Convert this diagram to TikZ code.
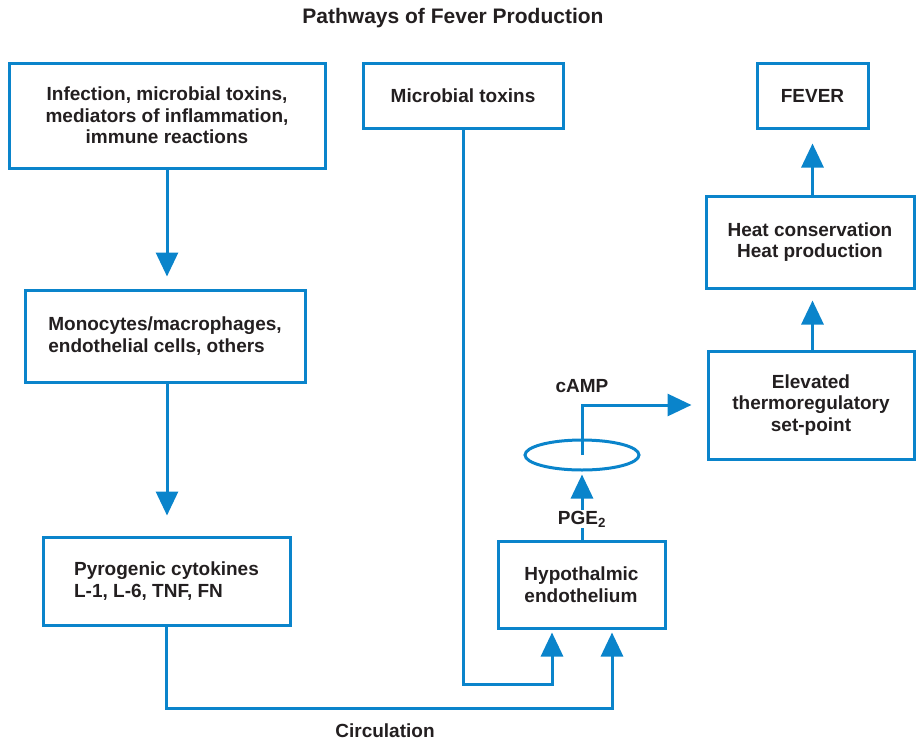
\documentclass[tikz,border=0pt]{standalone}
\usepackage{fontspec}
\setmainfont{Liberation Sans}
\usetikzlibrary{arrows.meta,shapes.geometric}

\definecolor{pathblue}{HTML}{0A84CB}
\definecolor{pathtext}{HTML}{231F20}

\tikzset{%
  every box/.style={
    draw=pathblue,
    line width=3pt,
    align=center,
    text=pathtext,
    font=\bfseries\fontsize{19}{21.5}\selectfont
  },
  box left/.style={
    align=left
  },
  flow/.style={
    draw=pathblue,
    line width=3pt
  },
  flow arrow/.style={
    flow,
    -{Triangle[width=22pt,length=24pt]}
  },
  every tag/.style={
    text=pathtext,
    font=\bfseries\fontsize{19}{21.5}\selectfont
  },
}

\begin{document}
\begin{tikzpicture}[x=1pt, y=-1pt]
\useasboundingbox (0,0) rectangle (916,742);

\node [every tag, font=\bfseries\fontsize{21}{24}\selectfont] (title) at (453,18) {Pathways of Fever Production};

% boxes
\node [every box, minimum width=316pt, minimum height=105pt] (infect) at (167,115.5)
  {Infection, microbial toxins,\\mediators of inflammation,\\immune reactions};
\node [every box, minimum width=200pt, minimum height=65pt] (toxins) at (463,95.5)
  {Microbial toxins};
\node [every box, minimum width=111pt, minimum height=65pt] (fever) at (812.5,95.5)
  {FEVER};
\node [every box, minimum width=208pt, minimum height=92pt] (heat) at (810,242)
  {Heat conservation\\Heat production};
\node [every box, minimum width=206pt, minimum height=108pt] (elev) at (811,405)
  {Elevated\\thermoregulatory\\set-point};
\node [every box, box left, minimum width=280pt, minimum height=92pt] (mono) at (165,336)
  {Monocytes/macrophages,\\endothelial cells, others};
\node [every box, box left, minimum width=247pt, minimum height=88pt] (pyro) at (166.5,581)
  {Pyrogenic cytokines\\L-1, L-6, TNF, FN};
\node [every box, box left, minimum width=167pt, minimum height=87pt] (hypo) at (581.5,584.5)
  {Hypothalmic\\endothelium};

\node [ellipse, draw=pathblue, line width=3pt, minimum width=114pt, minimum height=30pt] (cycle) at (582,455) {};

\coordinate (circ) at (612,708);
\coordinate (tox) at (552,684);

% left column
\draw [flow arrow, shorten >=12pt] (infect.south) -- (infect.south |- mono.north);
\draw [flow arrow, shorten >=20pt] (infect.south |- mono.south) -- (infect.south |- pyro.north);

% circulation and toxins
\draw [flow arrow, shorten >=3pt] (pyro.south) |- (circ) -- (circ |- hypo.south);
\draw [flow arrow, shorten >=3pt] (toxins.south) |- (tox) -- (tox |- hypo.south);
\node [every tag, inner sep=1pt] (circulation) at (385,731) {Circulation};

% PGE2 and cAMP
\draw [flow arrow, shorten >=3pt] (hypo.north -| cycle.south) -- (cycle.south)
  node [every tag, fill=white, inner sep=1pt, pos=0.3] (pge) {PGE$_\mathbf{2}$};
\draw [flow arrow, shorten >=15pt] (cycle.center) |- (elev.west);
\node [every tag] (camp) at (582,386) {cAMP};

% right column
\draw [flow arrow, shorten >=11pt] (elev.north -| fever.south) -- (heat.south -| fever.south);
\draw [flow arrow, shorten >=14pt] (heat.north -| fever.south) -- (fever.south);

\end{tikzpicture}
\end{document}
